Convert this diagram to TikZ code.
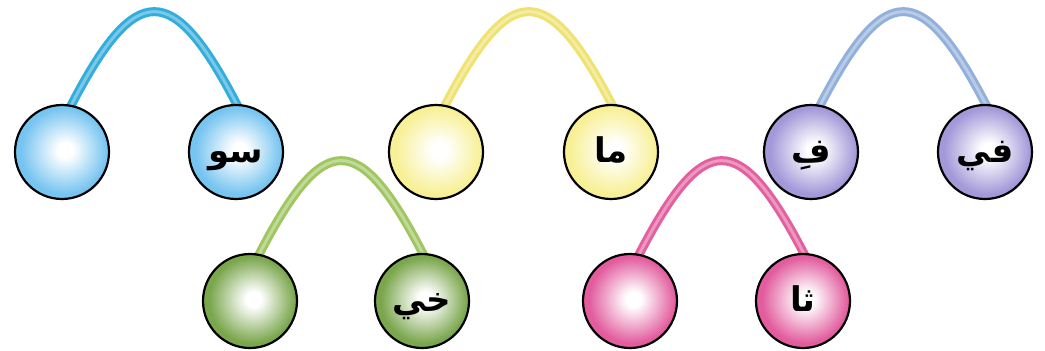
\documentclass[tikz,border=0pt]{standalone}
\usepackage{fontspec}
\usetikzlibrary{calc,backgrounds}
\TeXXeTstate=1
\newfontfamily\arabicfont[Script=Arabic]{DejaVu Sans}

% colours of the beads and their strings
\definecolor{blueS}{RGB}{52,172,220}
\definecolor{blueB}{RGB}{118,196,240}
\definecolor{yellowS}{RGB}{238,226,112}
\definecolor{yellowB}{RGB}{248,240,150}
\definecolor{purpleS}{RGB}{146,176,218}
\definecolor{purpleB}{RGB}{163,152,216}
\definecolor{greenS}{RGB}{160,198,98}
\definecolor{greenB}{RGB}{122,166,76}
\definecolor{pinkS}{RGB}{226,96,158}
\definecolor{pinkB}{RGB}{226,92,158}

\colorlet{beadin}{white}
\colorlet{beadout}{blueB}
\pgfdeclareradialshading[beadin,beadout]{beadshade}{\pgfpoint{2bp}{1bp}}{color(0bp)=(beadin); color(4bp)=(beadin); color(23bp)=(beadout); color(50bp)=(beadout)}

\tikzset{
  bead/.style={circle, draw=black, line width=2.2pt, minimum size=94pt, inner sep=0pt,
    /utils/exec={\colorlet{beadout}{#1}}, shading=beadshade,
    text height=20pt, text depth=0pt,
    font=\arabicfont\bfseries\fontsize{34}{38}\selectfont},
  string/.style={draw=#1, line width=9pt},
  shine/.style={draw=#1!65!white, line width=3pt}
}

\begin{document}
\begin{tikzpicture}[x=1pt, y=-1pt]
    \useasboundingbox (0,0) rectangle (1045,351);

    % top row
    \node[bead=blueB] (s1) at (62,152) {};
    \node[bead=blueB] (s2) at (236,152) {\beginR سو\endR};
    \node[bead=yellowB] (m1) at (436,152) {};
    \node[bead=yellowB] (m2) at (611,152) {\beginR ما\endR};
    \node[bead=purpleB] (f1) at (811,152) {\beginR فِ\endR};
    \node[bead=purpleB] (f2) at (985,152) {\beginR في\endR};

    % bottom row
    \node[bead=greenB] (k1) at (250,301) {};
    \node[bead=greenB] (k2) at (422,301) {\beginR خي\endR};
    \node[bead=pinkB] (t1) at (630,301) {};
    \node[bead=pinkB] (t2) at (803,301) {\beginR ثا\endR};

    % strings behind the beads
    \begin{scope}[on background layer]
    \foreach \p/\c in {s/blueS, m/yellowS, f/purpleS, k/greenS, t/pinkS} {
        \draw[string=\c] ($(\p1)!0.93!(\p1.80)$) .. controls +(66,-128) and +(-66,-128) .. ($(\p2)!0.93!(\p2.87)$);
        \draw[shine=\c] ($(\p1)!0.93!(\p1.80)$) .. controls +(66,-128) and +(-66,-128) .. ($(\p2)!0.93!(\p2.87)$);
    }
    \end{scope}
\end{tikzpicture}
\end{document}
